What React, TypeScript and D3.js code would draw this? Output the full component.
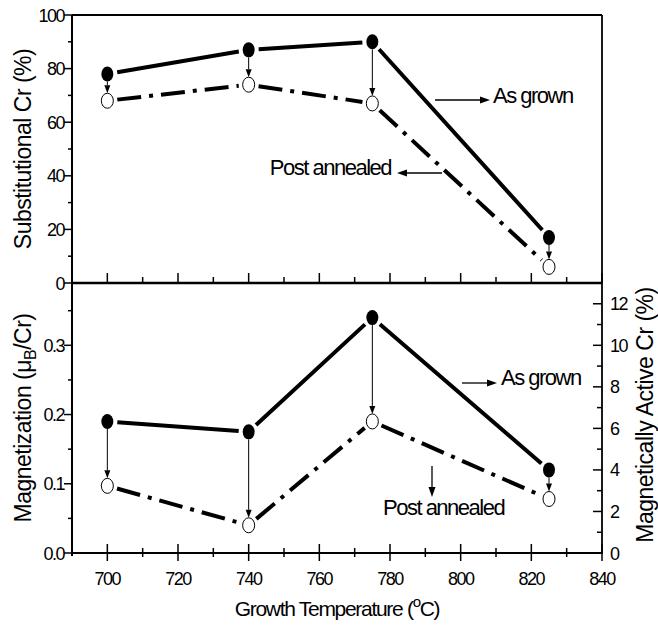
import React from 'react';
import * as d3 from 'd3';

// growth temperatures (°C)
const temps = [700, 740, 775, 825];
// substitutional Cr (%)
const subAsGrown = [78, 87, 90, 17];
const subAnnealed = [68, 74, 67, 6];
// magnetization (muB/Cr)
const magAsGrown = [0.19, 0.175, 0.34, 0.12];
const magAnnealed = [0.097, 0.04, 0.19, 0.078];

const FONT = 'Liberation Sans, Arial, sans-serif';

const x = d3.scaleLinear().domain([690, 840]).range([72, 602]);
const yTop = d3.scaleLinear().domain([0, 100]).range([283, 15]);
const yBot = d3.scaleLinear().domain([0, 0.39]).range([553, 283]);
const yRight = d3.scaleLinear().domain([0, 13]).range([553, 283]);

const RX = 6;
const RY = 7.5;

// segments between markers, cut short so they stop before each symbol
function gapped(pts: [number, number][], gap: number) {
  let d = '';
  for (let i = 0; i < pts.length - 1; i++) {
    const [x1, y1] = pts[i];
    const [x2, y2] = pts[i + 1];
    const len = Math.hypot(x2 - x1, y2 - y1);
    const ux = (x2 - x1) / len, uy = (y2 - y1) / len;
    d += `M${x1 + ux * gap},${y1 + uy * gap}L${x2 - ux * gap},${y2 - uy * gap}`;
  }
  return d;
}

function Arrow({ x1, y1, x2, y2, head = 10, half = 3.5, w = 1.3 }: any) {
  const len = Math.hypot(x2 - x1, y2 - y1);
  const ux = (x2 - x1) / len, uy = (y2 - y1) / len;
  const bx = x2 - ux * head, by = y2 - uy * head;
  const pts = `${x2},${y2} ${bx - uy * half},${by + ux * half} ${bx + uy * half},${by - ux * half}`;
  return (
    <g>
      <line x1={x1} y1={y1} x2={bx} y2={by} stroke="#000" strokeWidth={w} />
      <polygon points={pts} fill="#000" />
    </g>
  );
}

function Series({ y, grown, annealed }: any) {
  const pg: [number, number][] = temps.map((t, i) => [x(t), y(grown[i])]);
  const pa: [number, number][] = temps.map((t, i) => [x(t), y(annealed[i])]);
  return (
    <g>
      <path d={gapped(pa, 10)} fill="none" stroke="#000" strokeWidth={4} strokeDasharray="24 8 4 8" />
      <path d={gapped(pg, 10)} fill="none" stroke="#000" strokeWidth={4} />
      {temps.map((t, i) => (
        <Arrow key={'a' + i} x1={pg[i][0]} y1={pg[i][1] + RY} x2={pa[i][0]} y2={pa[i][1] - RY} head={8} half={3} w={1} />
      ))}
      {pg.map((p, i) => <ellipse key={'g' + i} cx={p[0]} cy={p[1]} rx={RX} ry={RY} fill="#000" />)}
      {pa.map((p, i) => <ellipse key={'o' + i} cx={p[0]} cy={p[1]} rx={RX} ry={RY} fill="#fff" stroke="#000" strokeWidth={1} />)}
    </g>
  );
}

const tickText = { fontFamily: FONT, fontSize: 18, letterSpacing: -1.5 } as any;
const labelText = { fontFamily: FONT, fontSize: 22, letterSpacing: -1.5 } as any;
const titleText = { fontFamily: FONT, fontSize: 23, letterSpacing: -0.5 } as any;

export default function App() {
  const xTicks = x.ticks(15).filter((v) => v > 690);
  const isMajorX = (v: number) => (v - 700) % 20 === 0;
  const topTicks = yTop.ticks(10);
  const botTicks = yBot.ticks(8);
  const rightTicks = yRight.ticks(13).filter((v) => v < 13);

  return (
    <svg width={658} height={632} style={{ position: 'absolute', left: 0, top: 0, background: '#fff' }}>
      {/* top panel frame */}
      <line x1={72} y1={15} x2={602} y2={15} stroke="#000" strokeWidth={1.8} />
      <line x1={602} y1={15} x2={602} y2={553} stroke="#000" strokeWidth={1.8} />
      <line x1={72} y1={15} x2={72} y2={556} stroke="#000" strokeWidth={2} />
      <line x1={72} y1={283} x2={602} y2={283} stroke="#000" strokeWidth={2.6} />
      <line x1={71} y1={553} x2={603} y2={553} stroke="#000" strokeWidth={2} />

      {/* top panel x ticks (inward) */}
      {xTicks.map((v) => (
        <line key={'tx' + v} x1={x(v)} x2={x(v)} y1={283} y2={283 - (isMajorX(v) ? 10 : 6)} stroke="#000" strokeWidth={1.5} />
      ))}
      {/* bottom panel x ticks */}
      {xTicks.map((v) => (
        <line key={'bx' + v} x1={x(v)} x2={x(v)} y1={553 - (isMajorX(v) ? 9 : 5)} y2={553 + (isMajorX(v) ? 8 : 4)} stroke="#000" strokeWidth={1.5} />
      ))}
      {xTicks.filter(isMajorX).map((v) => (
        <text key={'xl' + v} x={x(v)} y={585} textAnchor="middle" style={tickText}>{v}</text>
      ))}

      {/* top left axis */}
      {topTicks.map((v) => (
        <line key={'ty' + v} x1={72} x2={72 - (v % 20 === 0 ? 8 : 4)} y1={yTop(v)} y2={yTop(v)} stroke="#000" strokeWidth={1.5} />
      ))}
      {topTicks.filter((v) => v % 20 === 0).map((v) => (
        <text key={'tyl' + v} x={64} y={yTop(v) + 6.5} textAnchor="end" style={tickText}>{v}</text>
      ))}

      {/* bottom left axis */}
      {botTicks.map((v) => {
        const major = Math.round(v * 100) % 10 === 0;
        return <line key={'by' + v} x1={72} x2={72 - (major ? 8 : 4)} y1={yBot(v)} y2={yBot(v)} stroke="#000" strokeWidth={1.5} />;
      })}
      {botTicks.filter((v) => Math.round(v * 100) % 10 === 0).map((v) => (
        <text key={'byl' + v} x={64} y={yBot(v) + 6.5} textAnchor="end" style={tickText}>{d3.format('.1f')(v)}</text>
      ))}

      {/* bottom right axis (inward) */}
      {rightTicks.map((v) => (
        <line key={'ry' + v} x1={602} x2={602 - (v % 2 === 0 ? 9 : 5)} y1={yRight(v)} y2={yRight(v)} stroke="#000" strokeWidth={1.5} />
      ))}
      {rightTicks.filter((v) => v % 2 === 0).map((v) => (
        <text key={'ryl' + v} x={610} y={yRight(v) + 6.5} style={tickText}>{v}</text>
      ))}

      {/* axis titles */}
      <text transform="translate(31,149) rotate(-90)" textAnchor="middle" style={titleText}>Substitutional Cr (%)</text>
      <text transform="translate(31,418) rotate(-90)" textAnchor="middle" style={titleText}>
        Magnetization (μ<tspan fontSize={16} dy={5}>B</tspan><tspan dy={-5}>/Cr)</tspan>
      </text>
      <text transform="translate(653,415) rotate(-90)" textAnchor="middle" style={titleText}>Magnetically Active Cr (%)</text>
      <text x={337} y={616} textAnchor="middle" style={{ fontFamily: FONT, fontSize: 21, letterSpacing: -1.3 }}>
        Growth Temperature (<tspan fontSize={15} dy={-9}>o</tspan><tspan dy={9}>C)</tspan>
      </text>

      <Series y={yTop} grown={subAsGrown} annealed={subAnnealed} />
      <Series y={yBot} grown={magAsGrown} annealed={magAnnealed} />

      {/* annotations */}
      <Arrow x1={435} y1={100} x2={490} y2={100} />
      <text x={493} y={103} style={labelText}>As grown</text>
      <Arrow x1={442} y1={173} x2={397} y2={173} />
      <text x={391} y={175} textAnchor="end" style={labelText}>Post annealed</text>
      <Arrow x1={462} y1={383} x2={497} y2={383} />
      <text x={501} y={385} style={labelText}>As grown</text>
      <Arrow x1={432} y1={466} x2={432} y2={497} />
      <text x={383} y={515} style={labelText}>Post annealed</text>
    </svg>
  );
}
